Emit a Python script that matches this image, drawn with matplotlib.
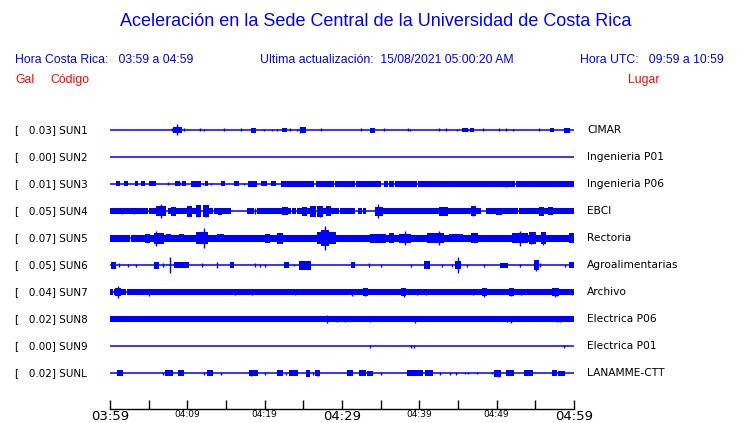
import matplotlib
matplotlib.use('Agg')
import matplotlib.pyplot as plt

W, H = 740, 423

# station table
codes = ['SUN1', 'SUN2', 'SUN3', 'SUN4', 'SUN5', 'SUN6', 'SUN7', 'SUN8', 'SUN9', 'SUNL']
places = ['CIMAR', 'Ingenieria P01', 'Ingenieria P06', 'EBCI', 'Rectoria',
          'Agroalimentarias', 'Archivo', 'Electrica P06', 'Electrica P01', 'LANAMME-CTT']
peaks = [0.03, 0.00, 0.01, 0.05, 0.07, 0.05, 0.04, 0.02, 0.00, 0.02]

# time axis (minutes after 03:59)
tick_min = list(range(0, 61, 5))
tick_lab = {0: '03:59', 10: '04:09', 20: '04:19', 30: '04:29', 40: '04:39', 50: '04:49', 60: '04:59'}
big_lab = [0, 30, 60]

# traces: bands = (t0, t1, half amplitude), spikes = (t, half amplitude)
bands_sun1 = [(8.3, 9.2, 2), (18.3, 18.7, 1.5), (22.4, 22.7, 1), (24.7, 25.2, 1.8), (33.8, 34.2, 1.5),
              (45.7, 46.1, 1.2), (46.7, 47.0, 1.2), (57.0, 57.3, 1.2), (58.9, 59.3, 1.5)]
spikes_sun1 = [(8.0, 1.5), (8.7, 5.5), (9.6, 1.5), (11.6, 1.5), (12.2, 1), (14.7, 1.5), (16.9, 1.5),
               (19.9, 1), (20.9, 1), (21.6, 1), (23.3, 1.5), (24.2, 1), (24.6, 3), (27.3, 1.5),
               (32.4, 1.5), (35.4, 1.5), (38.5, 1.5), (38.8, 1), (42.5, 1.5), (43.5, 1.5), (44.9, 1),
               (46.3, 1), (48.2, 1.5), (50.3, 1.5), (51.2, 1.5), (52.1, 1), (55.5, 1.5), (59.4, 1.5)]

bands_sun2 = []
spikes_sun2 = []

bands_sun3 = [(0.9, 1.1, 1.5), (1.9, 2.2, 1.5), (3.3, 3.5, 1.5), (4.2, 4.4, 1.5), (5.2, 5.4, 1.5),
              (5.6, 5.8, 1.5), (8.5, 8.9, 1.5), (9.5, 9.7, 1.5), (10.6, 11.7, 1.7), (12.4, 12.6, 1.5),
              (14.5, 14.8, 1.5), (16.2, 16.5, 1.5), (18.0, 18.9, 1.7), (19.7, 20.2, 1.5),
              (21.0, 21.3, 1.5), (22.3, 23.6, 1.7), (23.6, 25.3, 1.7), (25.6, 26.2, 1.7),
              (26.8, 28.8, 1.7), (29.2, 30.5, 1.7), (30.8, 31.6, 1.7), (31.9, 34.9, 1.7),
              (35.5, 35.8, 1.7), (36.2, 36.6, 1.7), (37.0, 39.6, 1.7), (39.9, 43.0, 1.7),
              (43.3, 45.0, 1.7), (45.3, 47.2, 1.7), (47.5, 52.3, 1.7), (52.6, 57.0, 1.7), (57.3, 60.0, 1.7)]
spikes_sun3 = [(7.5, 1.5), (9.0, 1.5), (12.0, 1.2), (13.0, 1.2), (17.3, 1.2), (51.2, 3)]

bands_sun4 = [(0, 4.8, 2), (5.2, 6.2, 2), (7.6, 10, 2), (10.5, 11.2, 2), (12.7, 13.2, 2), (13.6, 15.5, 2),
              (17.9, 18.5, 2), (19.2, 22.2, 2), (23, 23.3, 2), (23.6, 23.9, 2), (24.3, 26.5, 2),
              (27.4, 29.5, 2), (29.9, 31.6, 2), (32.2, 32.4, 2), (32.8, 33.0, 2), (35.1, 39.4, 2),
              (39.7, 47.8, 2), (48.7, 52.6, 2), (53.0, 60, 2),
              (6.1, 7.1, 4), (8.0, 8.4, 3.5), (10.1, 10.5, 4.5), (11.2, 11.6, 5), (12.2, 12.7, 5),
              (14.1, 14.3, 2.5), (22.4, 22.9, 3), (24.9, 25.3, 3.5), (26.0, 26.5, 4.5), (26.9, 27.4, 4.5),
              (28.0, 28.4, 4), (34.4, 35.2, 3.5), (42.7, 43.6, 3.5), (46.8, 47.2, 4), (50.1, 50.5, 2.5),
              (55.6, 56.0, 3.5), (56.8, 57.1, 3)]
spikes_sun4 = [(1.5, 2.5), (3.1, 2.5), (6.6, 7), (11.4, 6.3), (12.4, 6), (18.8, 3), (27.1, 5.5),
               (34.7, 7.3), (47, 4.5)]

bands_sun5 = [(0, 1.3, 2.5), (1.6, 2.5, 2.5), (2.8, 60, 2.5),
              (4.7, 5.1, 3.5), (5.8, 6.8, 4.5), (7.4, 7.7, 3), (9.1, 9.5, 3), (11.2, 12.6, 5),
              (14.0, 14.6, 3), (20.2, 20.6, 3.5), (21.7, 22.2, 4.5), (23.4, 23.7, 2.5), (26.9, 29.1, 5),
              (27.4, 28.2, 7), (33.8, 35.6, 3.5), (36.2, 36.6, 4), (37.5, 38.8, 3.5), (41.1, 43.1, 4),
              (44.0, 45.5, 3), (46.8, 47.4, 4), (50.0, 50.4, 2.5), (52.1, 53.9, 4), (54.3, 55.0, 5),
              (55.8, 56.2, 5), (59.5, 59.9, 4)]
spikes_sun5 = [(6.0, 7.5), (12.2, 9.8), (27.8, 11.8), (38.2, 7), (42.6, 7), (53.0, 7.5), (54.4, 6),
               (56.0, 6.5)]

bands_sun6 = [(0.3, 0.6, 2.5), (5.8, 6.2, 2.5), (8.4, 8.9, 2), (9.0, 9.4, 2), (9.5, 10.1, 2),
              (15.6, 15.9, 2), (22.6, 23.0, 2), (24.6, 25.9, 3.5), (31.3, 31.5, 2), (40.7, 41.3, 3),
              (44.8, 45.3, 3), (50.6, 50.8, 1.5), (51.1, 51.3, 1.5), (55.0, 55.4, 4), (59.5, 59.9, 2)]
spikes_sun6 = [(1.2, 2), (2.3, 1.5), (3.4, 1.5), (6.8, 2), (7.8, 8), (11.9, 2), (13.8, 3), (18.8, 2),
               (19.4, 1.5), (20.0, 1.5), (23.8, 1), (33.5, 2), (35.1, 1.5), (38.9, 1.5), (42.9, 1.5),
               (44.2, 1.5), (45.0, 8.3), (46.1, 1.5), (48.4, 1.5), (53.0, 1.5), (55.1, 5.5),
               (55.6, 2), (58.8, 1.5)]

bands_sun7 = [(0, 0.3, 1.7), (0.6, 1.4, 1.7), (1.6, 2.0, 1.7), (2.3, 2.6, 1.7), (2.9, 3.3, 1.7),
              (3.5, 3.9, 1.7), (4.1, 4.3, 1.7), (4.5, 60, 1.7),
              (0.8, 1.3, 3), (32.8, 33.2, 3), (37.8, 38.2, 3), (48.2, 48.6, 3), (51.7, 52.1, 3),
              (57.3, 57.9, 3)]
spikes_sun7 = [(1.0, 6.3), (5.1, 3.5), (16.2, 3), (18.3, 3), (23.9, 3), (31.3, 3.5), (33.0, 4),
               (38.0, 4.5), (39.7, 3), (40.9, 2.5), (47.0, 3), (48.4, 4.5), (51.9, 4), (53.2, 2.5),
               (57.5, 4.5), (57.8, 4), (59.7, 2.5)]

bands_sun8 = [(0, 60, 2.2)]
spikes_sun8 = [(28.0, 4), (29.4, 3), (30.4, 3), (33.6, 3), (39.5, 3.5), (51.3, 3), (51.9, 3.5),
               (57.8, 3), (58.2, 3)]

bands_sun9 = []
spikes_sun9 = [(33.6, 1.5), (38.9, 1.5), (39.3, 1.5), (58.7, 1.5)]

bands_sunl = [(1.0, 1.5, 2), (7.3, 7.5, 2), (7.8, 8.0, 2), (8.9, 9.4, 2), (12.7, 12.9, 2), (13.0, 13.2, 2),
              (18.1, 19.0, 2), (21.7, 22.2, 2), (23.3, 24.2, 2), (25.5, 25.7, 2.5), (26.6, 27.0, 2),
              (30.8, 31.0, 2), (31.1, 31.3, 2), (32.3, 33.0, 2), (33.4, 33.9, 1.5), (38.5, 40.3, 2),
              (40.9, 41.6, 2), (49.8, 50.4, 2.5), (51.3, 51.6, 2), (51.8, 52.1, 2), (53.7, 54.6, 2),
              (57.3, 57.7, 2), (58.0, 58.7, 1.5)]
spikes_sunl = [(6.8, 1.5), (12.2, 1.5), (14.3, 1.5), (18.2, 3), (20.1, 1.5), (22.8, 1.5), (25.6, 2.5),
               (26.2, 1.5), (26.9, 2.5), (35.1, 1.5), (42.7, 1.5), (44.0, 1.5), (44.7, 1.5), (45.9, 1),
               (46.3, 1), (47.4, 1), (49.4, 1), (50.2, 3.5)]

all_bands = [bands_sun1, bands_sun2, bands_sun3, bands_sun4, bands_sun5,
             bands_sun6, bands_sun7, bands_sun8, bands_sun9, bands_sunl]
all_spikes = [spikes_sun1, spikes_sun2, spikes_sun3, spikes_sun4, spikes_sun5,
              spikes_sun6, spikes_sun7, spikes_sun8, spikes_sun9, spikes_sunl]

BLUE = '#0000ff'
RED = '#ff0000'
HEAD = 'Liberation Sans'


def px(x, y):
    # pixel position (from top-left) -> figure fraction
    return x / W, 1 - y / H


fig = plt.figure(figsize=(W / 100, H / 100), dpi=100)
fig.patch.set_facecolor('white')

# header
fig.text(*px(376, 22), 'Aceleración en la Sede Central de la Universidad de Costa Rica',
         ha='center', va='center', color=BLUE, fontsize=13, family=HEAD)
fig.text(*px(15, 60), 'Hora Costa Rica:   03:59 a 04:59', ha='left', va='center',
         color=BLUE, fontsize=8.8, family=HEAD)
fig.text(*px(260, 60), 'Ultima actualización:  15/08/2021 05:00:20 AM', ha='left', va='center',
         color=BLUE, fontsize=8.8, family=HEAD)
fig.text(*px(724, 60), 'Hora UTC:   09:59 a 10:59', ha='right', va='center',
         color=BLUE, fontsize=8.8, family=HEAD)
fig.text(*px(15, 80), 'Gal', ha='left', va='center', color=RED, fontsize=8.8, family=HEAD)
fig.text(*px(50, 80), 'Código', ha='left', va='center', color=RED, fontsize=8.8, family=HEAD)
fig.text(*px(628, 80), 'Lugar', ha='left', va='center', color=RED, fontsize=8.8, family=HEAD)

# trace panel, y in pixel rows so the rows keep the picture's spacing
top, bot = 115, 409
ax = fig.add_axes([110 / W, (H - bot) / H, 464 / W, (bot - top) / H])
ax.set_xlim(0, 60)
ax.set_ylim(bot, top)
row0, step = 130, 27

for i in range(len(codes)):
    y = row0 + i * step
    ax.hlines(y, 0, 60, color=BLUE, lw=1.1)
    for t0, t1, a in all_bands[i]:
        ax.bar(t0, 2 * a, width=t1 - t0, bottom=y - a, align='edge', color=BLUE,
               edgecolor=BLUE, linewidth=0.3, antialiased=False)
    if all_spikes[i]:
        ts = [s[0] for s in all_spikes[i]]
        amps = [s[1] for s in all_spikes[i]]
        ax.vlines(ts, [y - a for a in amps], [y + a for a in amps], color=BLUE, lw=1.0)
    fig.text(*px(15, y), '[   %.2f] %s' % (peaks[i], codes[i]), ha='left', va='center',
             fontsize=7.5, color='black')
    fig.text(*px(587, y), places[i], ha='left', va='center', fontsize=7.7, color='black')

for s in ['top', 'left', 'right']:
    ax.spines[s].set_visible(False)
ax.spines['bottom'].set_linewidth(1.0)
ax.set_yticks([])
ax.set_xticks(tick_min)
ax.set_xticklabels([tick_lab.get(m, '') for m in tick_min])
ax.tick_params(axis='x', direction='in', length=6.5, width=1.0, pad=1)
for m, lab in zip(tick_min, ax.get_xticklabels()):
    lab.set_fontsize(9.5 if m in big_lab else 6.5)
ax.patch.set_alpha(0)

fig.savefig('out.png', dpi=100)
